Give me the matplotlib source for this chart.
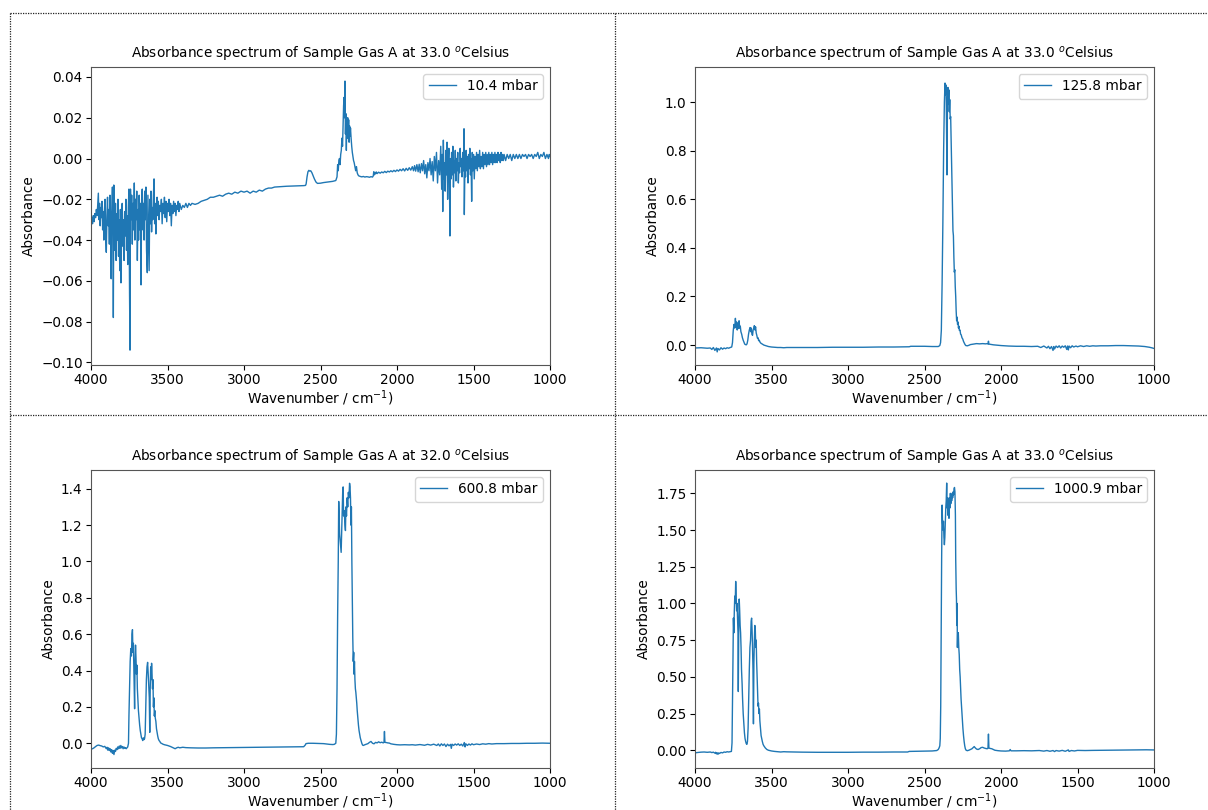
"""
absorbance spectra of sample gas A at four pressures.
"""
import numpy as np
import matplotlib

matplotlib.use("Agg")
import matplotlib.pyplot as plt
from matplotlib.lines import Line2D

# ---------------------------------------------------------------- data
pressures = ["10.4 mbar", "125.8 mbar", "600.8 mbar", "1000.9 mbar"]
temperatures = [33.0, 33.0, 32.0, 33.0]

# 10.4 mbar
wn1 = [
    4000, 3995, 3990, 3985, 3980, 3975, 3970, 3965, 3960, 3955, 3952, 3948, 3944, 3940, 3936,
    3932, 3928, 3924, 3920, 3916, 3912, 3908, 3904, 3900, 3896, 3892, 3888, 3884, 3880, 3876,
    3872, 3868, 3864, 3860, 3856, 3854, 3851, 3848, 3844, 3840, 3836, 3832, 3828, 3824, 3820,
    3816, 3812, 3808, 3804, 3800, 3796, 3792, 3788, 3784, 3780, 3776, 3772, 3768, 3764, 3760,
    3756, 3752, 3748, 3745, 3742, 3738, 3734, 3730, 3726, 3722, 3717, 3713, 3709, 3705, 3701,
    3697, 3693, 3689, 3685, 3681, 3677, 3673, 3669, 3665, 3661, 3657, 3653, 3649, 3645, 3641,
    3637, 3632, 3628, 3624, 3620, 3616, 3612, 3608, 3604, 3600, 3596, 3592, 3588, 3584, 3580,
    3576, 3572, 3568, 3564, 3560, 3555, 3550, 3545, 3540, 3535, 3530, 3525, 3520, 3515, 3510,
    3505, 3500, 3495, 3490, 3485, 3480, 3475, 3470, 3465, 3460, 3455, 3450, 3445, 3440, 3435,
    3430, 3425, 3420, 3410, 3400, 3390, 3380, 3370, 3360, 3350, 3340, 3320, 3300, 3280, 3260,
    3240, 3220, 3200, 3180, 3160, 3140, 3120, 3100, 3080, 3060, 3040, 3020, 3000, 2980, 2960,
    2940, 2920, 2900, 2880, 2860, 2840, 2820, 2800, 2760, 2720, 2680, 2640, 2610, 2598, 2594,
    2588, 2582, 2576, 2570, 2564, 2556, 2548, 2540, 2530, 2520, 2500, 2480, 2460, 2440, 2420,
    2400, 2392, 2388, 2384, 2380, 2376, 2372, 2368, 2364, 2360, 2356, 2352, 2349, 2346, 2343,
    2340, 2337, 2334, 2331, 2328, 2325, 2322, 2319, 2316, 2313, 2310, 2307, 2304, 2300, 2296,
    2292, 2288, 2284, 2280, 2275, 2270, 2265, 2260, 2255, 2250, 2240, 2230, 2220, 2210, 2200,
    2190, 2180, 2170, 2160, 2155, 2152, 2148, 2144, 2140, 2135, 2130, 2120, 2110, 2100, 2090,
    2080, 2070, 2060, 2050, 2040, 2030, 2020, 2010, 2000, 1990, 1980, 1970, 1960, 1950, 1940,
    1930, 1920, 1910, 1900, 1892, 1885, 1878, 1870, 1862, 1855, 1848, 1840, 1833, 1826, 1819,
    1812, 1805, 1798, 1791, 1784, 1777, 1770, 1763, 1756, 1749, 1742, 1735, 1728, 1721, 1714,
    1708, 1704, 1701, 1697, 1693, 1689, 1685, 1681, 1677, 1673, 1669, 1665, 1661, 1657, 1654,
    1651, 1647, 1643, 1639, 1635, 1631, 1627, 1623, 1619, 1615, 1611, 1607, 1603, 1599, 1595,
    1591, 1587, 1583, 1579, 1575, 1570, 1566, 1562, 1560, 1556, 1552, 1548, 1544, 1540, 1536,
    1532, 1528, 1524, 1520, 1516, 1512, 1508, 1504, 1500, 1495, 1490, 1485, 1480, 1475, 1470,
    1465, 1460, 1455, 1450, 1445, 1440, 1435, 1430, 1425, 1420, 1415, 1410, 1405, 1400, 1395,
    1390, 1385, 1380, 1375, 1370, 1365, 1360, 1355, 1350, 1345, 1340, 1335, 1330, 1325, 1320,
    1315, 1310, 1305, 1300, 1290, 1280, 1270, 1260, 1250, 1240, 1230, 1220, 1210, 1200, 1190,
    1180, 1170, 1160, 1150, 1140, 1130, 1120, 1110, 1100, 1090, 1080, 1070, 1060, 1050, 1040,
    1030, 1020, 1010, 1005, 1000,
]
ab1 = [
    -0.031, -0.029, -0.032, -0.028, -0.031, -0.027, -0.029, -0.025, -0.028, -0.021, -0.017, -0.030, -0.022, -0.033, -0.024,
    -0.029, -0.021, -0.035, -0.026, -0.040, -0.025, -0.020, -0.038, -0.046, -0.028, -0.019, -0.033, -0.025, -0.042, -0.018,
    -0.030, -0.059, -0.024, -0.014, -0.035, -0.078, -0.013, -0.030, -0.045, -0.022, -0.050, -0.027, -0.040, -0.020, -0.048,
    -0.030, -0.055, -0.025, -0.061, -0.035, -0.022, -0.043, -0.030, -0.050, -0.026, -0.038, -0.020, -0.045, -0.028, -0.052,
    -0.024, -0.015, -0.067, -0.094, -0.015, -0.030, -0.018, -0.042, -0.022, -0.035, -0.012, -0.040, -0.020, -0.030, -0.016,
    -0.050, -0.025, -0.040, -0.018, -0.035, -0.022, -0.062, -0.020, -0.015, -0.035, -0.022, -0.040, -0.016, -0.030, -0.014,
    -0.045, -0.056, -0.018, -0.038, -0.055, -0.020, -0.032, -0.016, -0.036, -0.024, -0.030, -0.018, -0.010, -0.032, -0.022,
    -0.037, -0.024, -0.019, -0.028, -0.021, -0.030, -0.023, -0.026, -0.020, -0.032, -0.022, -0.027, -0.019, -0.029, -0.021,
    -0.031, -0.022, -0.026, -0.020, -0.028, -0.022, -0.033, -0.023, -0.027, -0.021, -0.026, -0.022, -0.028, -0.023, -0.025,
    -0.021, -0.026, -0.022, -0.025, -0.023, -0.024, -0.022, -0.024, -0.022, -0.023, -0.022, -0.0225, -0.022, -0.021, -0.0205,
    -0.020, -0.019, -0.019, -0.0185, -0.018, -0.0185, -0.0175, -0.017, -0.0175, -0.0165, -0.017, -0.016, -0.0165, -0.016, -0.017,
    -0.016, -0.0165, -0.0155, -0.016, -0.015, -0.0145, -0.0145, -0.014, -0.0138, -0.0136, -0.0135, -0.0134, -0.0133, -0.0132, -0.0125,
    -0.009, -0.0065, -0.0058, -0.0062, -0.0060, -0.0070, -0.0085, -0.0100, -0.0115, -0.0122, -0.0121, -0.0118, -0.0116, -0.0114, -0.0112,
    -0.0108, -0.009, -0.003, -0.006, -0.001, 0.000, -0.003, 0.002, 0.004, 0.010, 0.006, 0.018, 0.026, 0.030, 0.020,
    0.038, 0.012, 0.022, 0.004, 0.019, 0.010, 0.020, 0.012, 0.019, 0.008, 0.016, 0.011, 0.015, 0.010, 0.006,
    0.003, 0.001, -0.001, -0.002, -0.004, -0.006, -0.004, -0.007, -0.008, -0.0085, -0.0088, -0.0090, -0.0088, -0.0091, -0.0089,
    -0.0090, -0.0092, -0.0089, -0.0091, -0.0085, -0.0065, -0.0080, -0.0068, -0.0075, -0.0066, -0.0074, -0.0067, -0.0072, -0.0066, -0.0070,
    -0.0063, -0.0069, -0.0062, -0.0066, -0.0060, -0.0065, -0.0058, -0.0064, -0.0056, -0.0062, -0.0053, -0.0060, -0.0050, -0.0061, -0.0048,
    -0.0058, -0.0045, -0.0057, -0.0040, -0.0060, -0.0035, -0.0062, -0.0030, -0.0065, -0.0028, -0.0070, -0.0025, -0.0060, -0.0010, -0.0075,
    -0.0030, -0.0095, -0.0020, -0.0060, 0.000, -0.0080, -0.0015, -0.011, 0.001, -0.006, 0.003, -0.012, -0.001, -0.008, 0.006,
    -0.015, 0.002, -0.026, 0.009, -0.010, -0.002, -0.016, 0.004, -0.008, 0.008, -0.020, -0.002, 0.005, -0.012, -0.038,
    0.000, -0.010, 0.003, -0.008, 0.006, -0.014, -0.001, -0.007, 0.004, -0.011, 0.000, -0.006, 0.003, -0.012, -0.002,
    -0.007, 0.005, -0.004, 0.000, -0.009, 0.003, -0.006, 0.0146, -0.0275, -0.002, -0.009, 0.004, -0.006, 0.001, -0.012,
    0.002, -0.005, 0.005, -0.008, 0.000, -0.021, 0.003, -0.006, 0.002, -0.010, 0.001, -0.005, 0.003, -0.006, 0.002,
    -0.004, 0.004, -0.005, 0.001, -0.004, 0.003, -0.005, 0.002, -0.003, 0.003, -0.004, 0.002, -0.003, 0.003, -0.003,
    0.002, -0.002, 0.003, -0.003, 0.002, -0.002, 0.003, -0.002, 0.002, -0.002, 0.003, -0.001, 0.002, -0.002, 0.003,
    -0.001, 0.002, -0.001, 0.002, -0.001, 0.002, 0.000, 0.002, -0.001, 0.002, 0.000, 0.002, 0.000, 0.002, 0.000,
    0.002, 0.001, 0.002, 0.000, 0.002, 0.001, 0.002, 0.000, 0.002, 0.001, 0.003, 0.000, 0.002, 0.001, 0.003,
    0.000, 0.002, 0.000, 0.002, 0.001,
]

# 125.8 mbar
wn2 = [
    4000, 3960, 3920, 3900, 3890, 3880, 3870, 3860, 3855, 3850, 3840, 3830, 3820, 3810, 3800,
    3790, 3780, 3770, 3760, 3755, 3750, 3745, 3740, 3736, 3732, 3728, 3724, 3720, 3716, 3712,
    3708, 3704, 3700, 3695, 3690, 3685, 3680, 3675, 3670, 3665, 3660, 3655, 3650, 3645, 3640,
    3636, 3632, 3628, 3624, 3620, 3616, 3612, 3608, 3604, 3600, 3596, 3592, 3588, 3584, 3580,
    3575, 3570, 3560, 3550, 3540, 3530, 3520, 3510, 3500, 3480, 3460, 3440, 3420, 3400, 3300,
    3200, 3100, 3000, 2900, 2800, 2700, 2600, 2590, 2500, 2450, 2410, 2400, 2395, 2390, 2385,
    2380, 2375, 2370, 2366, 2362, 2359, 2356, 2353, 2350, 2347, 2344, 2341, 2338, 2335, 2332,
    2329, 2326, 2323, 2320, 2317, 2314, 2311, 2308, 2305, 2302, 2299, 2296, 2293, 2290, 2287,
    2284, 2281, 2278, 2275, 2272, 2268, 2264, 2260, 2255, 2250, 2245, 2240, 2235, 2230, 2220,
    2210, 2200, 2180, 2160, 2140, 2120, 2100, 2090, 2085, 2082, 2079, 2070, 2050, 2000, 1950,
    1900, 1850, 1800, 1760, 1740, 1720, 1700, 1690, 1680, 1670, 1660, 1655, 1650, 1640, 1630,
    1620, 1610, 1600, 1590, 1580, 1570, 1565, 1560, 1555, 1545, 1535, 1525, 1510, 1500, 1480,
    1460, 1440, 1420, 1400, 1380, 1350, 1300, 1250, 1200, 1150, 1100, 1060, 1030, 1010, 1000,
]
ab2 = [
    -0.012, -0.011, -0.013, -0.012, -0.018, -0.010, -0.022, -0.012, -0.028, -0.014, -0.020, -0.011, -0.017, -0.012, -0.015,
    -0.011, -0.013, -0.010, -0.008, 0.010, 0.060, 0.085, 0.070, 0.110, 0.075, 0.095, 0.062, 0.090, 0.068, 0.100,
    0.070, 0.078, 0.055, 0.045, 0.030, 0.020, 0.012, 0.004, 0.002, 0.001, 0.005, 0.020, 0.045, 0.062, 0.072,
    0.055, 0.070, 0.045, 0.040, 0.062, 0.070, 0.080, 0.062, 0.075, 0.050, 0.040, 0.028, 0.030, 0.018, 0.020,
    0.012, 0.008, 0.004, 0.000, -0.002, -0.004, -0.006, -0.007, -0.008, -0.009, -0.010, -0.010, -0.011, -0.010, -0.010,
    -0.010, -0.009, -0.009, -0.009, -0.008, -0.008, -0.007, -0.005, -0.005, -0.006, -0.006, -0.002, 0.010, 0.060, 0.250,
    0.500, 0.800, 1.000, 1.078, 1.030, 1.070, 0.900, 0.700, 1.000, 1.060, 0.990, 1.050, 0.960, 1.010, 0.930,
    0.940, 0.850, 0.780, 0.650, 0.600, 0.470, 0.450, 0.360, 0.300, 0.310, 0.240, 0.200, 0.140, 0.100, 0.115,
    0.085, 0.095, 0.070, 0.078, 0.060, 0.062, 0.045, 0.042, 0.030, 0.025, 0.015, 0.008, 0.002, -0.002, -0.003,
    -0.001, 0.002, 0.004, 0.006, 0.005, 0.006, 0.005, 0.006, 0.004, 0.016, 0.004, 0.003, 0.001, -0.002, -0.004,
    -0.005, -0.005, -0.006, -0.005, -0.010, -0.004, -0.012, -0.005, -0.015, -0.006, -0.022, -0.006, -0.016, -0.004, -0.010,
    -0.003, -0.012, -0.004, -0.009, -0.003, -0.018, -0.004, -0.020, -0.004, -0.011, -0.003, -0.008, -0.004, -0.007, -0.003,
    -0.006, -0.003, -0.005, -0.003, -0.004, -0.003, -0.003, -0.002, -0.002, -0.003, -0.004, -0.006, -0.009, -0.012, -0.014,
]

# 600.8 mbar
wn3 = [
    4000, 3990, 3980, 3970, 3960, 3950, 3940, 3930, 3920, 3910, 3900, 3895, 3890, 3885, 3880,
    3875, 3870, 3865, 3860, 3855, 3850, 3845, 3840, 3835, 3830, 3825, 3820, 3815, 3810, 3805,
    3800, 3795, 3790, 3785, 3780, 3775, 3770, 3765, 3760, 3755, 3752, 3748, 3744, 3740, 3736,
    3732, 3729, 3726, 3723, 3720, 3717, 3715, 3712, 3709, 3706, 3703, 3700, 3697, 3694, 3690,
    3686, 3682, 3678, 3674, 3670, 3666, 3662, 3658, 3654, 3650, 3646, 3642, 3638, 3634, 3630,
    3626, 3622, 3619, 3616, 3613, 3610, 3607, 3604, 3601, 3598, 3595, 3592, 3589, 3586, 3583,
    3580, 3576, 3572, 3568, 3564, 3560, 3555, 3550, 3545, 3540, 3530, 3520, 3510, 3500, 3490,
    3480, 3470, 3460, 3450, 3440, 3430, 3420, 3400, 3380, 3350, 3300, 3250, 3200, 3100, 3000,
    2900, 2800, 2700, 2610, 2600, 2595, 2580, 2550, 2500, 2480, 2460, 2440, 2420, 2410, 2400,
    2396, 2392, 2388, 2384, 2381, 2375, 2368, 2365, 2362, 2358, 2355, 2352, 2349, 2345, 2340,
    2337, 2334, 2330, 2326, 2322, 2318, 2314, 2310, 2307, 2304, 2301, 2298, 2295, 2292, 2289,
    2286, 2283, 2281, 2278, 2275, 2272, 2269, 2266, 2263, 2260, 2256, 2252, 2248, 2244, 2240,
    2235, 2230, 2225, 2220, 2210, 2200, 2190, 2180, 2170, 2160, 2150, 2140, 2130, 2120, 2110,
    2100, 2090, 2085, 2082, 2079, 2070, 2060, 2050, 2040, 2020, 2000, 1980, 1950, 1920, 1900,
    1880, 1850, 1820, 1800, 1780, 1760, 1740, 1730, 1720, 1710, 1700, 1690, 1680, 1670, 1660,
    1650, 1645, 1640, 1630, 1620, 1610, 1600, 1590, 1580, 1570, 1560, 1555, 1550, 1540, 1530,
    1520, 1510, 1500, 1480, 1460, 1440, 1420, 1400, 1380, 1350, 1300, 1250, 1200, 1150, 1100,
    1050, 1000,
]
ab3 = [
    -0.032, -0.030, -0.025, -0.018, -0.012, -0.010, -0.013, -0.015, -0.020, -0.017, -0.030, -0.022, -0.038, -0.025, -0.040,
    -0.030, -0.048, -0.035, -0.055, -0.040, -0.062, -0.038, -0.045, -0.028, -0.035, -0.020, -0.030, -0.015, -0.028, -0.012,
    -0.025, -0.018, -0.030, -0.020, -0.028, -0.024, -0.030, -0.025, -0.020, 0.000, 0.150, 0.300, 0.450, 0.520, 0.480,
    0.600, 0.625, 0.500, 0.550, 0.420, 0.300, 0.190, 0.450, 0.540, 0.470, 0.380, 0.430, 0.300, 0.250, 0.180,
    0.140, 0.100, 0.070, 0.050, 0.030, 0.025, 0.015, 0.030, 0.020, 0.025, 0.050, 0.200, 0.350, 0.420, 0.445,
    0.380, 0.300, 0.250, 0.060, 0.300, 0.420, 0.350, 0.440, 0.380, 0.300, 0.350, 0.200, 0.250, 0.150, 0.180,
    0.140, 0.120, 0.080, 0.060, 0.040, 0.025, 0.015, 0.010, 0.002, 0.000, -0.005, -0.008, -0.010, -0.012, -0.015,
    -0.018, -0.022, -0.026, -0.030, -0.025, -0.022, -0.025, -0.022, -0.024, -0.025, -0.026, -0.026, -0.025, -0.024, -0.023,
    -0.022, -0.021, -0.020, -0.019, -0.010, -0.002, 0.000, 0.000, -0.001, -0.002, -0.004, -0.006, -0.007, -0.006, 0.000,
    0.050, 0.300, 0.700, 1.000, 1.330, 1.150, 1.080, 1.050, 1.150, 1.300, 1.380, 1.410, 1.250, 1.280, 1.200,
    1.170, 1.300, 1.250, 1.350, 1.300, 1.380, 1.350, 1.430, 1.410, 1.350, 1.200, 1.300, 1.000, 0.800, 0.580,
    0.450, 0.500, 0.380, 0.450, 0.350, 0.300, 0.280, 0.250, 0.220, 0.180, 0.140, 0.100, 0.070, 0.050, 0.030,
    0.015, 0.000, -0.010, -0.012, -0.008, -0.005, -0.002, 0.005, 0.010, 0.000, -0.003, 0.005, 0.002, 0.008, 0.003,
    0.006, 0.002, 0.005, 0.065, 0.005, 0.004, 0.002, 0.001, -0.003, -0.006, -0.008, -0.009, -0.008, -0.009, -0.008,
    -0.010, -0.007, -0.011, -0.006, -0.010, -0.005, -0.012, -0.004, -0.015, -0.003, -0.012, -0.004, -0.018, -0.005, -0.014,
    -0.006, -0.028, -0.005, -0.012, -0.004, -0.010, -0.003, -0.012, -0.005, -0.015, 0.004, -0.020, -0.003, -0.012, -0.004,
    -0.010, -0.003, -0.008, -0.004, -0.007, -0.003, -0.005, -0.002, -0.004, -0.002, -0.002, -0.001, -0.001, 0.000, 0.000,
    0.001, 0.000,
]

# 1000.9 mbar
wn4 = [
    4000, 3980, 3960, 3940, 3920, 3900, 3890, 3880, 3870, 3865, 3860, 3855, 3850, 3845, 3840,
    3830, 3820, 3810, 3800, 3790, 3780, 3770, 3762, 3758, 3755, 3752, 3749, 3746, 3743, 3740,
    3737, 3734, 3731, 3728, 3725, 3722, 3719, 3717, 3714, 3711, 3708, 3705, 3702, 3699, 3696,
    3692, 3689, 3685, 3681, 3677, 3673, 3669, 3665, 3661, 3657, 3653, 3649, 3645, 3641, 3637,
    3633, 3630, 3627, 3624, 3621, 3618, 3615, 3612, 3609, 3606, 3603, 3600, 3597, 3594, 3591,
    3588, 3585, 3582, 3579, 3576, 3572, 3568, 3564, 3560, 3555, 3550, 3540, 3530, 3520, 3500,
    3480, 3460, 3440, 3420, 3400, 3300, 3200, 3100, 3000, 2900, 2800, 2700, 2610, 2600, 2550,
    2500, 2450, 2420, 2410, 2405, 2400, 2397, 2394, 2391, 2388, 2385, 2382, 2379, 2376, 2373,
    2370, 2367, 2364, 2361, 2358, 2355, 2352, 2349, 2346, 2343, 2340, 2337, 2334, 2331, 2328,
    2325, 2322, 2319, 2316, 2313, 2310, 2307, 2304, 2301, 2298, 2296, 2293, 2291, 2289, 2287,
    2285, 2283, 2281, 2279, 2276, 2273, 2270, 2267, 2264, 2261, 2258, 2255, 2252, 2249, 2245,
    2241, 2237, 2233, 2228, 2220, 2210, 2200, 2190, 2180, 2175, 2170, 2160, 2150, 2140, 2130,
    2120, 2110, 2100, 2090, 2085, 2082, 2079, 2070, 2060, 2050, 2040, 2020, 2000, 1970, 1945,
    1940, 1935, 1900, 1850, 1800, 1750, 1720, 1700, 1680, 1660, 1650, 1640, 1620, 1600, 1580,
    1560, 1555, 1540, 1520, 1500, 1450, 1400, 1300, 1200, 1100, 1050, 1000,
]
ab4 = [
    -0.018, -0.015, -0.013, -0.012, -0.014, -0.012, -0.016, -0.013, -0.020, -0.014, -0.025, -0.017, -0.028, -0.018, -0.022,
    -0.015, -0.018, -0.012, -0.014, -0.010, -0.012, -0.010, -0.008, 0.050, 0.300, 0.600, 0.900, 0.800, 0.950, 1.050,
    1.000, 1.150, 1.050, 0.950, 1.000, 0.900, 0.800, 0.400, 0.850, 1.030, 0.950, 0.850, 0.800, 0.700, 0.550,
    0.450, 0.350, 0.250, 0.180, 0.120, 0.080, 0.060, 0.045, 0.040, 0.060, 0.150, 0.350, 0.550, 0.700, 0.750,
    0.880, 0.900, 0.820, 0.700, 0.550, 0.180, 0.600, 0.750, 0.850, 0.830, 0.700, 0.750, 0.600, 0.500, 0.400,
    0.300, 0.320, 0.250, 0.280, 0.200, 0.150, 0.100, 0.080, 0.060, 0.040, 0.030, 0.015, 0.005, 0.000, -0.005,
    -0.008, -0.010, -0.012, -0.010, -0.011, -0.013, -0.014, -0.014, -0.014, -0.013, -0.013, -0.012, -0.012, -0.008, -0.007,
    -0.006, -0.005, -0.002, 0.005, 0.015, 0.030, 0.080, 0.300, 0.800, 1.300, 1.670, 1.550, 1.500, 1.560, 1.450,
    1.400, 1.450, 1.550, 1.650, 1.700, 1.820, 1.650, 1.720, 1.600, 1.700, 1.580, 1.720, 1.650, 1.750, 1.680,
    1.720, 1.700, 1.750, 1.720, 1.760, 1.740, 1.780, 1.790, 1.760, 1.600, 1.300, 1.100, 1.030, 0.850, 1.000,
    0.700, 0.800, 0.750, 0.800, 0.700, 0.650, 0.550, 0.500, 0.420, 0.350, 0.300, 0.250, 0.200, 0.150, 0.100,
    0.060, 0.030, 0.010, 0.000, -0.003, 0.000, 0.005, 0.010, 0.020, 0.025, 0.018, 0.008, 0.005, 0.010, 0.018,
    0.020, 0.015, 0.012, 0.010, 0.015, 0.110, 0.015, 0.012, 0.010, 0.005, 0.000, -0.003, -0.005, -0.006, -0.004,
    0.005, -0.004, -0.004, -0.003, -0.004, -0.002, -0.006, -0.002, -0.007, -0.002, -0.009, -0.002, -0.006, -0.001, -0.007,
    0.002, -0.008, -0.002, -0.005, -0.001, -0.002, -0.001, 0.000, 0.001, 0.002, 0.003, 0.002,
]

wavenumbers = [wn1, wn2, wn3, wn4]
absorbances = [ab1, ab2, ab3, ab4]

# ---------------------------------------------------------------- plot
W, H = 1208, 810
fig = plt.figure(figsize=(W / 100, H / 100), dpi=100)

# axes boxes in pixels: left, top, width, height
boxes = [
    (91, 67, 459, 298),
    (695, 67, 459, 298),
    (91, 470, 459, 298),
    (695, 470, 459, 298),
]
ylims = [(-0.1013, 0.0449), (-0.082, 1.144), (-0.136, 1.503), (-0.121, 1.909)]
yticks = [
    np.arange(-0.10, 0.041, 0.02),
    np.arange(0.0, 1.01, 0.2),
    np.arange(0.0, 1.41, 0.2),
    np.arange(0.0, 1.76, 0.25),
]
yfmt = ["{:.2f}", "{:.1f}", "{:.1f}", "{:.2f}"]

fs = 9.8
for i in range(4):
    l, t, w, h = boxes[i]
    ax = fig.add_axes([l / W, 1 - (t + h) / H, w / W, h / H])
    ax.plot(wavenumbers[i], absorbances[i], color="#1f77b4", lw=1.0, label=pressures[i])
    ax.set_xlim(4000, 1000)
    ax.set_ylim(*ylims[i])
    ax.set_xticks([4000, 3500, 3000, 2500, 2000, 1500, 1000])
    ax.set_yticks(yticks[i])
    ax.set_yticklabels([yfmt[i].format(v).replace("-", "\u2212") for v in yticks[i]])
    ax.tick_params(labelsize=fs, pad=2.5)
    ax.set_title(
        "Absorbance spectrum of Sample Gas A at %.1f $^o$Celsius" % temperatures[i],
        fontsize=fs,
    )
    ax.set_xlabel("Wavenumber / cm$^{-1}$)", fontsize=fs, labelpad=0.5)
    ax.set_ylabel("Absorbance", fontsize=fs)
    ax.legend(loc="upper right", fontsize=fs)
    for s in ax.spines.values():
        s.set_color("#555555")
        s.set_linewidth(0.8)

# dotted cell borders
def px_line(x0, y0, x1, y1):
    fig.add_artist(
        Line2D(
            [x0 / W, x1 / W],
            [1 - y0 / H, 1 - y1 / H],
            transform=fig.transFigure,
            color="#222222",
            lw=0.9,
            linestyle=(0, (1, 1)),
        )
    )


px_line(9.5, 12.5, W, 12.5)
px_line(9.5, 414.5, W, 414.5)
px_line(9.5, 12.5, 9.5, H)
px_line(614.5, 12.5, 614.5, H)

fig.savefig("out.png", dpi=100)
